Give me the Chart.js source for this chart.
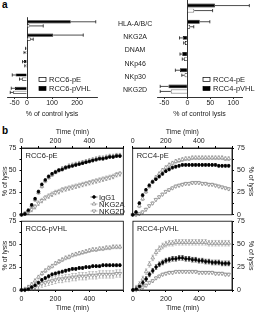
<!DOCTYPE html>
<html>
<head>
<meta charset="utf-8">
<script src="https://cdn.jsdelivr.net/npm/chart.js@4.4.1/dist/chart.umd.min.js"></script>
<style>
    body { margin: 0; width: 256px; height: 312px; background: #fff; position: relative; overflow: hidden; font-family: "Liberation Sans", Arial, sans-serif; }
    canvas { position: absolute; }
    .tag { position: absolute; font-weight: bold; font-size: 10px; line-height: 10px; }
</style>
</head>
<body>
<div class="tag" style="left:2px; top:0px;">a</div>
<div class="tag" style="left:2px; top:126px;">b</div>
<canvas id="barL" width="160" height="118" style="left:0; top:0;"></canvas>
<canvas id="barR" width="106" height="118" style="left:150px; top:0;"></canvas>
<canvas id="t6pE" width="128" height="104" style="left:0; top:118px;"></canvas>
<canvas id="t4pE" width="128" height="104" style="left:128px; top:118px;"></canvas>
<canvas id="t6pV" width="128" height="98" style="left:0; top:214px;"></canvas>
<canvas id="t4pV" width="128" height="98" style="left:128px; top:214px;"></canvas>
<script>
// panel a data (% of control lysis)
const categories = ["HLA-A/B/C", "NKG2A", "DNAM", "NKp46", "NKp30", "NKG2D"];
const rcc6pVHL = [175, 105, -3, -12, -46, -48];
const rcc6pVHLErr = [100, 120, 3, 6, 13, 15];
const rcc6pE = [10, 15, -6, -4, -20, -55];
const rcc6pEErr = [55, 10, 6, 5, 10, 12];
const rcc4pVHL = [60, 27, -10, -11, -16, -41];
const rcc4pVHLErr = [75, 22, 7, 5, 10, 18];
const rcc4pE = [15, 6, -5, -7, -6, -36];
const rcc4pEErr = [40, 8, 3, 4, 6, 23];
const ticksLeft = [-50, 0, 100, 200];
const ticksRight = [-50, 0, 50, 100];

// panel b data (% of lysis over time)
const timeMin = [0, 20, 40, 60, 80, 100, 120, 140, 160, 180, 200, 220, 240, 260, 280, 300, 320, 340, 360, 380, 400, 420, 440, 460, 480, 500, 520, 540, 560, 580];
const timeTicks = [0, 100, 200, 300, 400, 500, 600];
const timeLabels = [0, 200, 400];
const lysisTicks = [0, 12.5, 25, 37.5, 50, 62.5, 75];
const lysisLabels = [0, 25, 50, 75];

const igg1_6pE = [0, 1, 5, 11, 18, 26, 34, 39, 43, 46, 48, 50, 51, 53, 54, 55, 56, 57, 58, 59, 60, 61, 62, 63, 63, 64, 65, 65, 66, 66];
const nkg2a_6pE = [0, 1, 4, 10, 17, 25, 32, 38, 42, 45, 48, 50, 52, 53, 55, 56, 57, 58, 59, 60, 61, 62, 63, 64, 64, 65, 66, 66, 67, 67];
const nkg2d_6pE = [0, 1, 3, 6, 9, 13, 16, 19, 21, 23, 25, 26, 28, 29, 30, 31, 32, 33, 34, 35, 36, 37, 38, 39, 40, 41, 42, 43, 45, 46];
const err_6pE = [1.5, 2, 2.5];

const igg1_4pE = [0, 3, 13, 22, 28, 33, 37, 40, 43, 46, 49, 51, 53, 54, 55, 56, 56, 56, 56, 56, 56, 56, 56, 56, 56, 56, 55, 55, 55, 55];
const nkg2a_4pE = [0, 2, 10, 18, 26, 32, 37, 42, 46, 50, 53, 56, 58, 60, 61, 62, 63, 63, 64, 64, 64, 64, 64, 64, 64, 64, 64, 64, 63, 63];
const nkg2d_4pE = [0, 0, 1, 3, 6, 10, 13, 17, 20, 23, 26, 28, 30, 32, 33, 34, 35, 35, 36, 36, 36, 35, 35, 34, 34, 33, 32, 31, 30, 29];
const err_4pE = [1.5, 2, 1.5];

const igg1_6pV = [0, 0, 1, 3, 5, 8, 11, 13, 15, 17, 18, 19, 20, 21, 22, 23, 23, 24, 24, 25, 25, 26, 26, 26, 27, 27, 27, 27, 27, 27];
const nkg2a_6pV = [0, 1, 3, 6, 10, 14, 18, 21, 24, 26, 29, 31, 33, 35, 36, 38, 39, 40, 41, 42, 43, 44, 44, 45, 45, 46, 46, 47, 47, 47];
const nkg2d_6pV = [0, 0, 1, 2, 3, 5, 7, 8, 9, 10, 11, 12, 12, 13, 13, 14, 14, 15, 15, 15, 16, 16, 16, 17, 17, 17, 17, 17, 18, 18];
const err_6pV = [1.5, 2, 4];

const igg1_4pV = [0, 1, 4, 8, 12, 17, 21, 25, 28, 30, 32, 33, 34, 34, 35, 35, 34, 34, 33, 33, 32, 32, 31, 31, 30, 30, 30, 29, 29, 29];
const nkg2a_4pV = [0, 2, 6, 12, 20, 28, 35, 41, 45, 48, 50, 51, 51, 52, 52, 52, 52, 52, 52, 52, 52, 52, 52, 51, 51, 51, 51, 51, 51, 51];
const nkg2d_4pV = [0, 0, 1, 3, 5, 8, 10, 13, 15, 17, 18, 19, 19, 20, 20, 20, 20, 20, 20, 20, 19, 19, 19, 19, 19, 18, 18, 18, 17, 17];
const err_4pV = [2.5, 3, 1.5];

const seriesNames = ["IgG1", "NKG2A", "NKG2D"];

Chart.defaults.font.family = '"Liberation Sans", Arial, sans-serif';
Chart.defaults.font.size = 7;
Chart.defaults.color = "#222";
Chart.defaults.animation = false;

const font7 = { size: 7 };

// marker look for each series (filled circle, open triangle up, open triangle down)
const markers = [
    { style: "circle", rot: 0, fill: "#000", stroke: "#000", r: 1.4, err: "#000" },
    { style: "triangle", rot: 0, fill: "#fff", stroke: "#808080", r: 2.1, err: "#999" },
    { style: "triangle", rot: 180, fill: "#fff", stroke: "#808080", r: 2.1, err: "#999" }
];

function drawMarker(ctx, m, x, y) {
    ctx.save();
    ctx.fillStyle = m.fill;
    ctx.strokeStyle = m.stroke;
    ctx.lineWidth = 0.7;
    ctx.beginPath();
    if (m.style === "circle") {
        ctx.arc(x, y, m.r, 0, Math.PI * 2);
    } else {
        const s = m.rot ? -1 : 1;
        ctx.moveTo(x, y - s * m.r);
        ctx.lineTo(x + m.r * 0.87, y + s * m.r * 0.5);
        ctx.lineTo(x - m.r * 0.87, y + s * m.r * 0.5);
        ctx.closePath();
    }
    ctx.fill();
    ctx.stroke();
    ctx.restore();
}

// error whiskers on the horizontal bars
const barErrors = {
    id: "barErrors",
    afterDatasetsDraw(chart) {
        const ctx = chart.ctx;
        const xs = chart.scales.x;
        chart.data.datasets.forEach((ds, i) => {
            chart.getDatasetMeta(i).data.forEach((bar, j) => {
                const v = ds.data[j];
                const e = ds.errors[j];
                const end = xs.getPixelForValue(v < 0 ? v - e : v + e);
                ctx.save();
                ctx.strokeStyle = "#000";
                ctx.lineWidth = 0.7;
                ctx.beginPath();
                ctx.moveTo(bar.x, bar.y);
                ctx.lineTo(end, bar.y);
                ctx.moveTo(end, bar.y - 1.6);
                ctx.lineTo(end, bar.y + 1.6);
                ctx.stroke();
                ctx.restore();
            });
        });
    }
};

// little box legend inside panel a
const boxLegend = {
    id: "boxLegend",
    afterDraw(chart, args, opts) {
        const ctx = chart.ctx;
        opts.items.forEach((it, k) => {
            const y = opts.y + k * 9;
            ctx.save();
            ctx.fillStyle = it.fill;
            ctx.strokeStyle = "#000";
            ctx.lineWidth = 0.7;
            ctx.fillRect(opts.x, y - 2, 7, 4);
            ctx.strokeRect(opts.x, y - 2, 7, 4);
            ctx.fillStyle = "#222";
            ctx.font = '7.5px "Liberation Sans", Arial, sans-serif';
            ctx.textBaseline = "middle";
            ctx.fillText(it.text, opts.x + 10, y + 0.5);
            ctx.restore();
        });
    }
};

function barChart(id, pVHL, pVHLErr, pE, pEErr, names, min, max, tickVals, pad, showCats, legendX) {
    return new Chart(document.getElementById(id), {
        type: "bar",
        data: {
            labels: categories,
            datasets: [
                { label: names[1], data: pVHL, errors: pVHLErr, backgroundColor: "#000", borderColor: "#000", borderWidth: 0.7 },
                { label: names[0], data: pE, errors: pEErr, backgroundColor: "#fff", borderColor: "#000", borderWidth: 0.7 }
            ]
        },
        options: {
            indexAxis: "y",
            responsive: false,
            layout: { padding: pad },
            categoryPercentage: 0.62,
            barPercentage: 0.78,
            plugins: {
                legend: { display: false },
                tooltip: { enabled: false },
                boxLegend: { x: legendX, y: 79.5, items: [{ text: names[0], fill: "#fff" }, { text: names[1], fill: "#000" }] }
            },
            scales: {
                x: {
                    min: min,
                    max: max,
                    afterBuildTicks: a => { a.ticks = tickVals.map(v => ({ value: v })); },
                    ticks: { font: font7, padding: 0, maxRotation: 0, autoSkip: false },
                    // only the zero line is drawn across the plot
                    grid: { color: c => c.tick && c.tick.value === 0 ? "#000" : "rgba(0,0,0,0)", tickColor: "#000", tickLength: 2, lineWidth: 0.8 },
                    border: { color: "#000", width: 0.8 },
                    title: { display: true, text: "% of control lysis", font: font7, padding: { top: 0, bottom: 0 } },
                    afterFit: s => { s.height = 21; }
                },
                y: {
                    display: showCats,
                    position: "right",
                    grid: { display: false },
                    border: { display: false },
                    ticks: { font: font7, crossAlign: "center", padding: 13, color: "#222" },
                    afterFit: s => { s.width = showCats ? 63 : 0; }
                }
            }
        },
        plugins: [barErrors, boxLegend]
    });
}

barChart("barL", rcc6pVHL, rcc6pVHLErr, rcc6pE, rcc6pEErr, ["RCC6-pE", "RCC6-pVHL"], -80, 280, ticksLeft, { left: 7, top: 0, right: 0, bottom: 0 }, true, 39);
barChart("barR", rcc4pVHL, rcc4pVHLErr, rcc4pE, rcc4pEErr, ["RCC4-pE", "RCC4-pVHL"], -66, 119, ticksRight, { left: 7, top: 0, right: 14, bottom: 0 }, false, 53);

// vertical error bars under the time-course markers
const pointErrors = {
    id: "pointErrors",
    beforeDatasetsDraw(chart) {
        const ctx = chart.ctx;
        const ys = chart.scales.y;
        chart.data.datasets.forEach((ds, i) => {
            chart.getDatasetMeta(i).data.forEach((pt, j) => {
                const v = ds.data[j];
                if (v <= 0) return;
                const y1 = ys.getPixelForValue(v + ds.err);
                const y2 = ys.getPixelForValue(Math.max(v - ds.err, 0));
                ctx.save();
                ctx.strokeStyle = markers[i].err;
                ctx.lineWidth = 0.6;
                ctx.beginPath();
                ctx.moveTo(pt.x, y1);
                ctx.lineTo(pt.x, y2);
                ctx.moveTo(pt.x - 1.2, y1);
                ctx.lineTo(pt.x + 1.2, y1);
                ctx.moveTo(pt.x - 1.2, y2);
                ctx.lineTo(pt.x + 1.2, y2);
                ctx.stroke();
                ctx.restore();
            });
        });
    }
};

// box around each subplot, its name and (optionally) the marker legend
const panelDecor = {
    id: "panelDecor",
    afterDraw(chart, args, opts) {
        const ctx = chart.ctx;
        const a = chart.chartArea;
        ctx.save();
        ctx.strokeStyle = "#000";
        ctx.lineWidth = 0.8;
        ctx.strokeRect(a.left, a.top, a.right - a.left, a.bottom - a.top);
        ctx.fillStyle = "#222";
        ctx.font = '7.5px "Liberation Sans", Arial, sans-serif';
        ctx.textBaseline = "middle";
        ctx.fillText(opts.name, a.left + 4, a.top + 8);
        if (opts.legend) {
            seriesNames.forEach((n, k) => {
                const y = opts.legend.y + k * 7;
                const x = opts.legend.x;
                ctx.strokeStyle = markers[k].stroke;
                ctx.lineWidth = 0.6;
                ctx.beginPath();
                ctx.moveTo(x - 3.5, y);
                ctx.lineTo(x + 3.5, y);
                ctx.stroke();
                drawMarker(ctx, markers[k], x, y);
                ctx.fillStyle = "#222";
                ctx.fillText(n, x + 5, y + 0.5);
            });
        }
        ctx.restore();
    }
};

function timeChart(id, name, ser, errs, xPos, yPos, pad, xH, yW, legend) {
    return new Chart(document.getElementById(id), {
        type: "line",
        data: {
            labels: timeMin,
            datasets: ser.map((d, k) => ({
                label: seriesNames[k],
                data: d,
                err: errs[k],
                showLine: false,
                pointStyle: markers[k].style,
                pointRotation: markers[k].rot,
                pointRadius: markers[k].r,
                pointBackgroundColor: markers[k].fill,
                pointBorderColor: markers[k].stroke,
                pointBorderWidth: 0.7
            }))
        },
        options: {
            responsive: false,
            layout: { padding: pad },
            clip: false,
            plugins: {
                legend: { display: false },
                tooltip: { enabled: false },
                panelDecor: { name: name, legend: legend }
            },
            scales: {
                x: {
                    type: "linear",
                    position: xPos,
                    min: 0,
                    max: 600,
                    afterBuildTicks: a => { a.ticks = timeTicks.map(v => ({ value: v })); },
                    ticks: { font: font7, padding: xPos === "top" ? 1 : 3, maxRotation: 0, autoSkip: false, callback: v => timeLabels.includes(v) ? String(v) : "" },
                    grid: { drawOnChartArea: false, tickLength: 2, tickColor: "#000" },
                    border: { color: "#000", width: 0.8 },
                    title: { display: true, text: "Time (min)", font: font7, padding: { top: 10, bottom: 0 } },
                    afterFit: s => { s.height = xH; }
                },
                y: {
                    position: yPos,
                    min: 0,
                    max: 75,
                    afterBuildTicks: a => { a.ticks = lysisTicks.map(v => ({ value: v })); },
                    ticks: { font: font7, padding: 3, autoSkip: false, callback: v => lysisLabels.includes(v) ? String(v) : "" },
                    grid: { drawOnChartArea: false, tickLength: 2, tickColor: "#000" },
                    border: { color: "#000", width: 0.8 },
                    title: { display: true, text: "% of lysis", font: font7, padding: { top: 1, bottom: 1 } },
                    afterFit: s => { s.width = yW; }
                }
            }
        },
        plugins: [pointErrors, panelDecor]
    });
}

timeChart("t6pE", "RCC6-pE", [igg1_6pE, nkg2a_6pE, nkg2d_6pE], err_6pE, "top", "left", { left: 0, top: 0, right: 0.5, bottom: 6 }, 30, 21.5, { x: 94, y: 197 - 118 });
timeChart("t4pE", "RCC4-pE", [igg1_4pE, nkg2a_4pE, nkg2d_4pE], err_4pE, "top", "right", { left: 1.5, top: 0, right: 0, bottom: 6 }, 30, 24, null);
timeChart("t6pV", "RCC6-pVHL", [igg1_6pV, nkg2a_6pV, nkg2d_6pV], err_6pV, "bottom", "left", { left: 0, top: 7, right: 0.5, bottom: 0 }, 22, 21.5, null);
timeChart("t4pV", "RCC4-pVHL", [igg1_4pV, nkg2a_4pV, nkg2d_4pV], err_4pV, "bottom", "right", { left: 1.5, top: 7, right: 0, bottom: 0 }, 22, 24, null);
</script>
</body>
</html>
